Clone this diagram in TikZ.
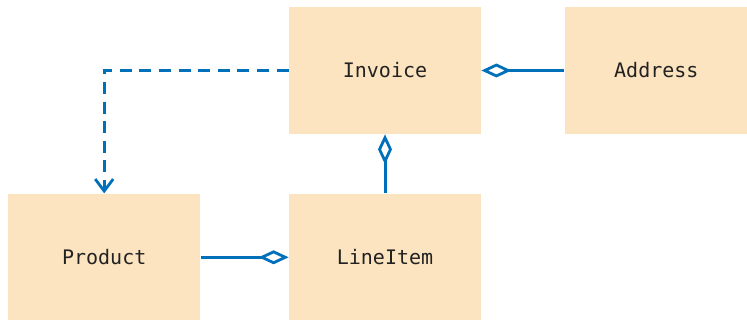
\documentclass[tikz,border=0pt]{standalone}
\usepackage{fontspec}
\setmainfont{DejaVu Sans Mono}
\definecolor{ClassFill}{RGB}{252,228,192}
\definecolor{LinkBlue}{RGB}{0,112,186}
\definecolor{TextGray}{RGB}{34,34,34}
\usetikzlibrary{positioning,arrows.meta}

\begin{document}
\begin{tikzpicture}[
      every node/.style={font=\fontsize{10pt}{12pt}\selectfont, text=TextGray, align=center},
      cls/.style={fill=ClassFill, minimum width=96pt, minimum height=63.5pt, inner sep=0pt},
      link/.style={draw=LinkBlue, line width=1.5pt},
      agg/.style={link, -{Diamond[open, length=15pt, width=7pt, line width=1.4pt]}},
      dep/.style={link, dash pattern=on 6pt off 3.8pt, -{Straight Barb[length=6pt, width=9pt, line width=1.4pt]}}
  ]
    \useasboundingbox (0,0) rectangle (373.5pt,160pt);
    \node[cls] (inv) at (192.5pt,124.75pt) {Invoice};
    \node[cls, minimum width=91.5pt, right=41.5pt of inv] (addr) {Address};
    \node[cls, below=29.5pt of inv] (item) {LineItem};
    \node[cls, left=44pt of item] (prod) {Product};
    \draw[dep] (inv.west) -| (prod.north);
    \draw[agg] (addr) -- (inv);
    \draw[agg] (item) -- (inv);
    \draw[agg] (prod) -- (item);
  \end{tikzpicture}
\end{document}
